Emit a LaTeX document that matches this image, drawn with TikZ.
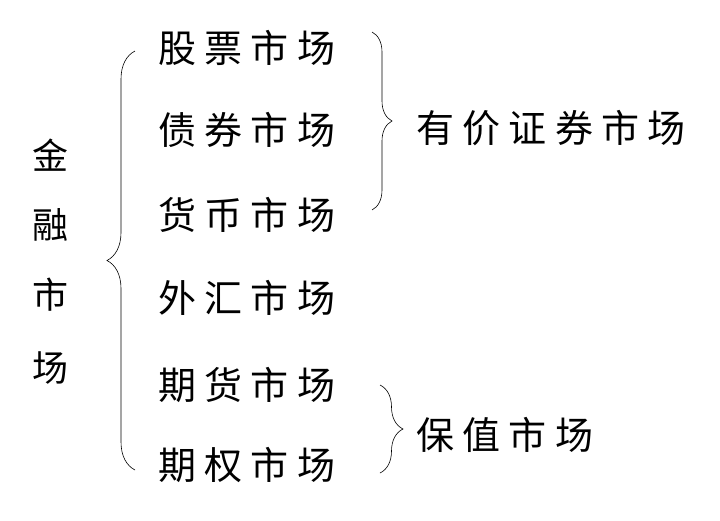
\documentclass[tikz,border=0pt]{standalone}
\usepackage{fontspec}
\newfontfamily\cjk[LetterSpace=22]{Noto Sans CJK SC}
\newfontfamily\cjkplain{Noto Sans CJK SC}
\usetikzlibrary{decorations.pathreplacing}
\tikzset{
  item/.style={anchor=west, inner sep=0pt, font=\cjk\fontsize{38}{42}\selectfont},
  side/.style={inner sep=0pt, font=\cjkplain\fontsize{36}{40}\selectfont},
  br/.style={decorate, line width=0.6pt, decoration={brace, amplitude=#1, aspect=0.5}},
}
\begin{document}
\begin{tikzpicture}[x=1pt, y=-1pt]
  \useasboundingbox (0,0) rectangle (720,520);

  % --- left title, written top to bottom ---
  \foreach \ch/\yy [count=\i] in {金/155, 融/225, 市/295, 场/368}
    \node[side] (t\i) at (50,\yy) {\ch};

  % --- the six markets ---
  \node[item] (gp) at (158,48)  {股票市场};
  \node[item] (zq) at (158,130) {债券市场};
  \node[item] (hb) at (158,215) {货币市场};
  \node[item] (wh) at (158,298) {外汇市场};
  \node[item] (qh) at (158,385) {期货市场};
  \node[item] (qq) at (158,465) {期权市场};

  % --- groups on the right ---
  \node[item] (yj) at (416,128) {有价证券市场};
  \node[item] (bz) at (416,435) {保值市场};

  % --- brace ends ---
  \coordinate (big1) at (135,470);
  \coordinate (big2) at (135,51);
  \coordinate (r1a) at (372,32);
  \coordinate (r1b) at (372,210);
  \coordinate (r2a) at (380,385);
  \coordinate (r2b) at (380,473);

  % --- braces ---
  \draw[br=28pt] (big1) -- (big2);
  \draw[br=20pt] (r1a) -- (r1b);
  \draw[br=23pt] (r2a) -- (r2b);

\end{tikzpicture}
\end{document}
